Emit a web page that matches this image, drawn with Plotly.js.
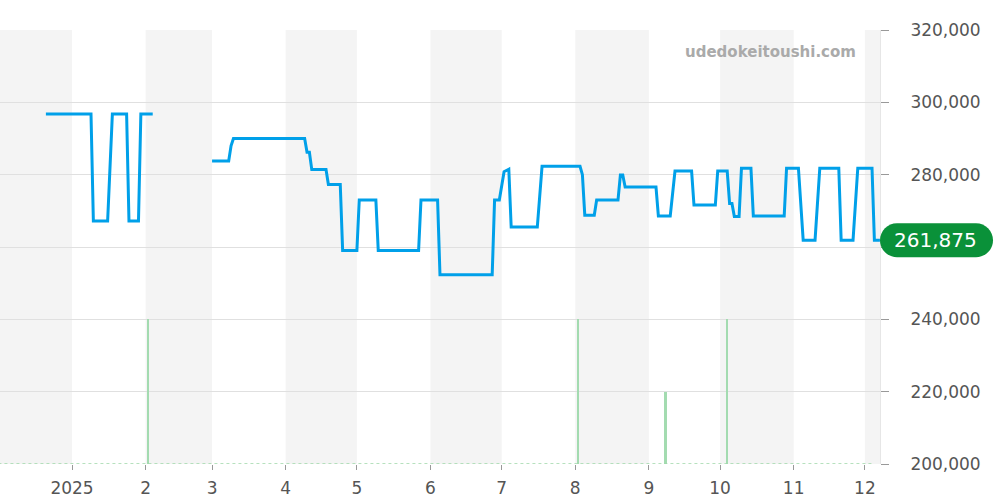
<!DOCTYPE html>
<html>
<head>
<meta charset="utf-8">
<script src="https://cdn.plot.ly/plotly-3.0.1.min.js"></script>
<style>
  html, body { margin: 0; padding: 0; background: #fff; }
  #chart { width: 1000px; height: 500px; }
</style>
</head>
<body>
<div id="chart"></div>
<script>
// ---- data ----
const priceDates = [
  '2024-12-21', '2025-01-09', '2025-01-10', '2025-01-16', '2025-01-18', '2025-01-24',
  '2025-01-25', '2025-01-29', '2025-01-30', '2025-02-04', '2025-02-15',
  '2025-03-01', '2025-03-08', '2025-03-09', '2025-03-10', '2025-04-09', '2025-04-10',
  '2025-04-11', '2025-04-12', '2025-04-18', '2025-04-19', '2025-04-24', '2025-04-25',
  '2025-05-01', '2025-05-02', '2025-05-09', '2025-05-10', '2025-05-27', '2025-05-28',
  '2025-06-04', '2025-06-05', '2025-06-27', '2025-06-28', '2025-06-30', '2025-07-02',
  '2025-07-04', '2025-07-05', '2025-07-16', '2025-07-18', '2025-08-03', '2025-08-04',
  '2025-08-05', '2025-08-09', '2025-08-10', '2025-08-19', '2025-08-20', '2025-08-21',
  '2025-08-22', '2025-09-04', '2025-09-05', '2025-09-10', '2025-09-12', '2025-09-19',
  '2025-09-20', '2025-09-29', '2025-09-30', '2025-10-04', '2025-10-05', '2025-10-06',
  '2025-10-07', '2025-10-09', '2025-10-10', '2025-10-14', '2025-10-15', '2025-10-28',
  '2025-10-29', '2025-11-03', '2025-11-05', '2025-11-10', '2025-11-12', '2025-11-20',
  '2025-11-21', '2025-11-26', '2025-11-28', '2025-12-04', '2025-12-05', '2025-12-07 08:00'
];
const priceValues = [
  296800, 296800, 267200, 267200, 296800, 296800,
  267200, 267200, 296800, 296800, null,
  283800, 283800, 288000, 290000, 290000, 286200,
  286200, 281400, 281400, 277300, 277300, 259000,
  259000, 273000, 273000, 259000, 259000, 273000,
  273000, 252300, 252300, 273000, 273000, 280800,
  281500, 265500, 265500, 282300, 282300, 280000,
  268800, 268800, 273000, 273000, 279900, 279900,
  276600, 276600, 268600, 268600, 281000, 281000,
  271600, 271600, 281000, 281000, 272000, 272000,
  268400, 268400, 281800, 281800, 268600, 268600,
  281800, 281800, 261875, 261875, 281800, 281800,
  261875, 261875, 281800, 281800, 261875, 261875
];
const volumeDates = ['2025-02-02', '2025-08-02', '2025-09-08', '2025-10-04'];
const volumeValues = [2, 2, 1, 2];
const volumeBaselineDates = ['2024-12-01', '2025-12-04'];
const volumeBaselineValues = [0, 0];
const monthStarts = [
  '2024-12-01', '2025-01-01', '2025-02-01', '2025-03-01', '2025-04-01', '2025-05-01',
  '2025-06-01', '2025-07-01', '2025-08-01', '2025-09-01', '2025-10-01', '2025-11-01',
  '2025-12-01', '2026-01-01'
];
const tickVals = monthStarts.slice(1, 13);
const tickText = ['2025', '2', '3', '4', '5', '6', '7', '8', '9', '10', '11', '12'];
const yTickVals = [200000, 220000, 240000, 260000, 280000, 300000, 320000];
const yTickText = ['200,000', '220,000', '240,000', '', '280,000', '300,000', '320,000'];
const lastValue = 261875;
const lastLabel = '261,875';
const watermark = 'udedokeitoushi.com';

// ---- layout helpers ----
const yRange = [200000, 320000];
const shapes = [];
for (let i = 0; i < monthStarts.length - 1; i += 2) {
  shapes.push({
    type: 'rect', xref: 'x', yref: 'paper',
    x0: monthStarts[i], x1: monthStarts[i + 1], y0: 0, y1: 1,
    fillcolor: '#f4f4f4', line: { width: 0 }, layer: 'below'
  });
}
// pill behind last value
const k = 9.39, r = 17, w = 113;
const pillPath =
  `M ${r},${r} L ${w - r},${r} C ${w - r + k},${r} ${w},${k} ${w},0 ` +
  `C ${w},${-k} ${w - r + k},${-r} ${w - r},${-r} L ${r},${-r} ` +
  `C ${r - k},${-r} 0,${-k} 0,0 C 0,${k} ${r - k},${r} ${r},${r} Z`;
shapes.push({
  type: 'path', xref: 'paper', yref: 'paper',
  xsizemode: 'pixel', ysizemode: 'pixel',
  xanchor: 1, yanchor: (lastValue - yRange[0]) / (yRange[1] - yRange[0]),
  path: pillPath, fillcolor: '#0a9139', line: { width: 0 }, layer: 'above'
});

const traces = [
  {
    x: volumeBaselineDates, y: volumeBaselineValues, yaxis: 'y2',
    type: 'scatter', mode: 'lines',
    line: { color: '#9fd8a9', width: 1.5, dash: 'dot' },
    hoverinfo: 'skip', showlegend: false
  },
  {
    x: volumeDates, y: volumeValues, yaxis: 'y2', type: 'bar',
    width: 0.85 * 86400000,
    marker: { color: '#a3dbb0', line: { width: 0 } },
    showlegend: false
  },
  {
    x: priceDates, y: priceValues, type: 'scatter', mode: 'lines',
    line: { color: '#00a0e9', width: 3 },
    connectgaps: false, showlegend: false
  }
];

const layout = {
  width: 1000, height: 500,
  margin: { l: 0, r: 120, t: 30, b: 36 },
  paper_bgcolor: '#ffffff', plot_bgcolor: 'rgba(0,0,0,0)',
  font: { family: 'DejaVu Sans', color: '#555555', size: 17 },
  showlegend: false,
  bargap: 0,
  xaxis: {
    type: 'date',
    range: ['2024-12-01 16:00', '2025-12-07 08:40'],
    tickvals: tickVals, ticktext: tickText,
    ticks: 'outside', ticklen: 5, tickcolor: '#999999', tickwidth: 1,
    ticklabelstandoff: 4,
    showgrid: false, zeroline: false, showline: false,
    tickfont: { family: 'DejaVu Sans', size: 17, color: '#555555' }
  },
  yaxis: {
    side: 'right', range: yRange,
    tickvals: yTickVals, ticktext: yTickText,
    ticks: 'outside', ticklen: 8, tickcolor: '#999999', tickwidth: 1,
    ticklabelstandoff: 18,
    showgrid: true, gridcolor: '#e0e0e0', gridwidth: 1,
    zeroline: false, showline: true, linecolor: '#e6e6e6', linewidth: 1,
    tickfont: { family: 'DejaVu Sans', size: 17, color: '#555555' }
  },
  yaxis2: {
    overlaying: 'y', side: 'left', range: [0, 6], visible: false,
    showgrid: false, zeroline: false
  },
  shapes: shapes,
  annotations: [
    {
      xref: 'paper', yref: 'paper', x: 0.876, y: 0.949,
      xanchor: 'center', yanchor: 'middle', showarrow: false,
      text: watermark,
      font: { family: 'DejaVu Sans', size: 15, color: '#aaaaaa', weight: 'bold' }
    },
    {
      xref: 'paper', yref: 'y', x: 1, y: lastValue, xshift: 55,
      xanchor: 'center', yanchor: 'middle', showarrow: false,
      text: lastLabel,
      font: { family: 'DejaVu Sans', size: 20, color: '#ffffff' }
    }
  ]
};

Plotly.newPlot('chart', traces, layout, { displayModeBar: false, staticPlot: true });
</script>
</body>
</html>
